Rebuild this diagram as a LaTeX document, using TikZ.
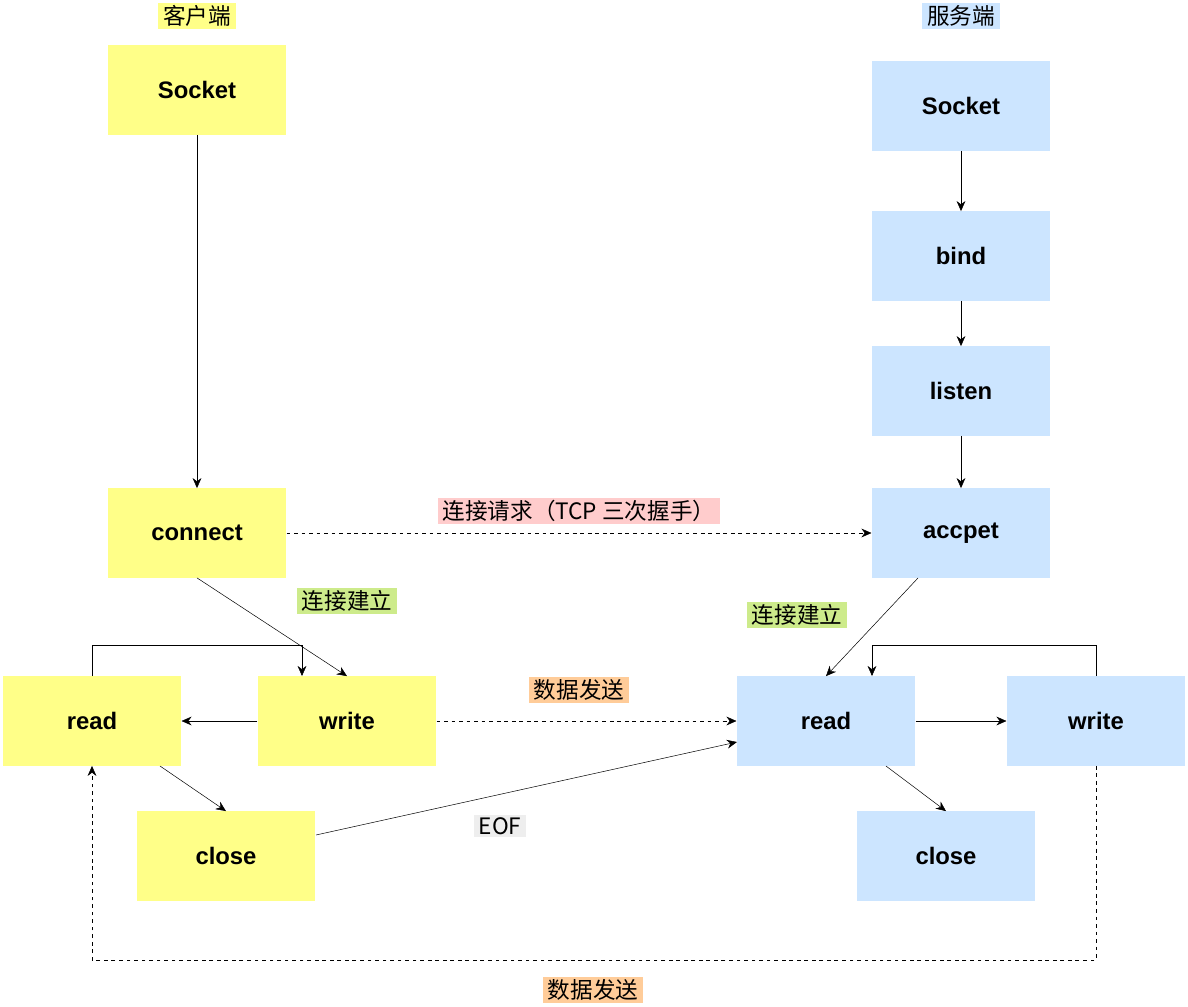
\documentclass[tikz,border=0pt]{standalone}
\usepackage{fontspec}
\setmainfont{Liberation Sans}
\newfontfamily\cjk{Noto Sans CJK SC}
\usetikzlibrary{arrows.meta}
\definecolor{cliY}{HTML}{FFFF88}
\definecolor{srvB}{HTML}{CCE5FF}
\definecolor{tagG}{HTML}{CDEB8B}
\definecolor{tagR}{HTML}{FFCCCC}
\definecolor{tagO}{HTML}{FFCC99}
\definecolor{tagE}{HTML}{EEEEEE}
\tikzset{
  box/.style={rectangle,minimum width=5.0cm,minimum height=2.5cm,font=\fontsize{19}{22}\selectfont\bfseries},
  cli/.style={box,fill=cliY},
  srv/.style={box,fill=srvB},
  tag/.style={inner xsep=4pt,inner ysep=2pt,font=\fontsize{18}{21}\selectfont\cjk},
  arr/.style={-{Stealth[length=8pt,width=7pt]}},
}
\begin{document}
\begin{tikzpicture}[x=0.028cm,y=-0.028cm]
	\useasboundingbox (0,0) rectangle (1188,1007);
	% client
	\node (cs) at (197,90) [cli] {Socket};
	\node (cc) at (197,533) [cli] {connect};
	\node (cr) at (92,721) [cli] {read};
	\node (cw) at (347,721) [cli] {write};
	\node (cx) at (226,856) [cli] {close};
	% server
	\node (ss) at (961,106) [srv] {Socket};
	\node (sb) at (961,256) [srv] {bind};
	\node (sl) at (961,391) [srv] {listen};
	\node (sa) at (961,533) [srv] {accpet};
	\node (sr) at (826,721) [srv] {read};
	\node (sw) at (1096,721) [srv] {write};
	\node (sx) at (946,856) [srv] {close};
	% tags
	\node (t1) at (197,16) [tag,fill=cliY] {客户端};
	\node (t2) at (961,16) [tag,fill=srvB] {服务端};
	\node (t3) at (579,511) [tag,fill=tagR] {连接请求（TCP 三次握手）};
	\node (t4) at (347,601) [tag,fill=tagG] {连接建立};
	\node (t5) at (797,615) [tag,fill=tagG] {连接建立};
	\node (t6) at (579,690) [tag,fill=tagO] {数据发送};
	\node (t7) at (500,826) [tag,fill=tagE] {EOF};
	\node (t8) at (593,990) [tag,fill=tagO] {数据发送};
	% helper points
	\coordinate (lc) at (92,645);
	\coordinate (wc) at (302,676);
	\coordinate (ls) at (1096,645);
	\coordinate (rs) at (872,676);
	\coordinate (bl) at (1096,960);
	\coordinate (xo) at (316,835);
	\coordinate (ri) at (737,742);
	\coordinate (ro) at (160,766);
	\coordinate (ao) at (918,578);
	\coordinate (so) at (886,766);
	% client arrows
	\draw[arr] (cs)--(cc);
	\draw[arr] (cc.south)--(cw.north);
	\draw[arr] (cw)--(cr);
	\draw[arr] (cr.north)--(lc)-|(wc);
	\draw[arr] (ro)--(cx.north);
	\draw[arr] (xo)--(ri);
	% between
	\draw[arr,dashed] (cc)--(sa);
	\draw[arr,dashed] (cw)--(sr);
	% server arrows
	\draw[arr] (ss)--(sb);
	\draw[arr] (sb)--(sl);
	\draw[arr] (sl)--(sa);
	\draw[arr] (ao)--(sr.north);
	\draw[arr] (sr)--(sw);
	\draw[arr] (sw.north)--(ls)-|(rs);
	\draw[arr] (so)--(sx.north);
	\draw[arr,dashed] (sw.south)--(bl)-|(cr.south);
\end{tikzpicture}
\end{document}
